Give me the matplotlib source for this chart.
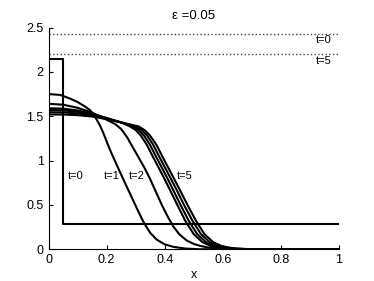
import numpy as np
import matplotlib.pyplot as plt

plt.rcParams['font.family'] = ['Liberation Sans', 'DejaVu Sans']

# initial step profile (t=0)
x0 = [0, 0.05, 0.05, 1.0]
y0 = [2.15, 2.15, 0.29, 0.29]

# profiles
x1 = [0, 0.04, 0.073, 0.1, 0.125, 0.142, 0.155, 0.165, 0.177, 0.188, 0.2, 0.211, 0.23,
      0.248, 0.27, 0.29, 0.31, 0.328, 0.35, 0.372, 0.4, 0.43, 0.47, 0.52, 1.0]
y1 = [1.75, 1.74, 1.70, 1.66, 1.61, 1.57, 1.52, 1.465, 1.395, 1.315, 1.215, 1.125, 0.985,
      0.855, 0.7, 0.56, 0.42, 0.3, 0.185, 0.11, 0.055, 0.027, 0.008, 0.0, 0.0]

x2 = [0, 0.05, 0.1, 0.15, 0.2, 0.23, 0.25, 0.27, 0.29, 0.31, 0.33, 0.35, 0.37, 0.39,
      0.41, 0.43, 0.45, 0.475, 0.5, 0.52, 0.545, 0.58, 0.62, 0.67, 1.0]
y2 = [1.64, 1.63, 1.595, 1.54, 1.46, 1.41, 1.355, 1.265, 1.15, 1.035, 0.92, 0.79, 0.645, 0.5,
      0.37, 0.255, 0.17, 0.1, 0.06, 0.04, 0.022, 0.009, 0.003, 0.0, 0.0]

x3 = [0, 0.05, 0.1, 0.15, 0.2, 0.25, 0.28, 0.3, 0.318, 0.338, 0.363, 0.392, 0.418, 0.445,
      0.471, 0.5, 0.53, 0.56, 0.6, 0.65, 0.72, 1.0]
y3 = [1.59, 1.585, 1.565, 1.53, 1.48, 1.43, 1.385, 1.345, 1.28, 1.18, 1.02, 0.84, 0.67, 0.49,
      0.32, 0.17, 0.08, 0.035, 0.01, 0.002, 0.0, 0.0]

x4 = [0, 0.05, 0.1, 0.15, 0.2, 0.25, 0.29, 0.31, 0.329, 0.349, 0.374, 0.403, 0.429, 0.456,
      0.483, 0.512, 0.542, 0.572, 0.612, 0.662, 0.732, 1.0]
y4 = [1.57, 1.566, 1.55, 1.52, 1.477, 1.43, 1.385, 1.345, 1.28, 1.18, 1.02, 0.84, 0.67, 0.49,
      0.32, 0.17, 0.08, 0.035, 0.01, 0.002, 0.0, 0.0]

x5 = [0, 0.05, 0.1, 0.15, 0.2, 0.25, 0.3, 0.32, 0.34, 0.36, 0.385, 0.414, 0.441, 0.468,
      0.496, 0.525, 0.555, 0.585, 0.625, 0.675, 0.745, 1.0]
y5 = [1.545, 1.543, 1.532, 1.508, 1.472, 1.43, 1.385, 1.345, 1.28, 1.18, 1.02, 0.84, 0.67, 0.49,
      0.32, 0.17, 0.08, 0.035, 0.01, 0.002, 0.0, 0.0]

x6 = [0, 0.05, 0.1, 0.15, 0.2, 0.25, 0.31, 0.33, 0.35, 0.371, 0.396, 0.425, 0.452, 0.48,
      0.508, 0.537, 0.567, 0.597, 0.637, 0.687, 0.757, 1.0]
y6 = [1.52, 1.519, 1.512, 1.496, 1.467, 1.43, 1.385, 1.345, 1.28, 1.18, 1.02, 0.84, 0.67, 0.49,
      0.32, 0.17, 0.08, 0.035, 0.01, 0.002, 0.0, 0.0]

# dotted reference levels
level_t0 = 2.43
level_t5 = 2.20

fig = plt.figure(figsize=(3.74, 2.81), dpi=100)
ax = fig.add_axes([0.13, 0.113, 0.776, 0.789])

for xs, ys in [(x0, y0), (x1, y1), (x2, y2), (x3, y3), (x4, y4), (x5, y5), (x6, y6)]:
    ax.plot(xs, ys, color='black', lw=1.5, solid_joinstyle='round')

ax.plot([0, 1], [level_t0, level_t0], ls=':', color='#444444', lw=1.0)
ax.plot([0, 1], [level_t5, level_t5], ls=':', color='#444444', lw=1.0)

ax.text(0.922, 2.36, 't=0', fontsize=8, va='center')
ax.text(0.922, 2.12, 't=5', fontsize=8, va='center')
ax.text(0.065, 0.83, 't=0', fontsize=8, va='center')
ax.text(0.19, 0.83, 't=1', fontsize=8, va='center')
ax.text(0.277, 0.83, 't=2', fontsize=8, va='center')
ax.text(0.442, 0.83, 't=5', fontsize=8, va='center')

ax.set_xlim(0, 1)
ax.set_ylim(0, 2.5)
ax.set_xticks([0, 0.2, 0.4, 0.6, 0.8, 1])
ax.set_xticklabels(['0', '0.2', '0.4', '0.6', '0.8', '1'])
ax.set_yticks([0, 0.5, 1, 1.5, 2, 2.5])
ax.set_yticklabels(['0', '0.5', '1', '1.5', '2', '2.5'])
ax.tick_params(direction='in', length=3, labelsize=9)
ax.spines['top'].set_visible(False)
ax.spines['right'].set_visible(False)
ax.set_xlabel('x', fontsize=9, labelpad=2)
ax.set_title('ε =0.05', fontsize=9.5)

fig.savefig('out.png', dpi=100)
